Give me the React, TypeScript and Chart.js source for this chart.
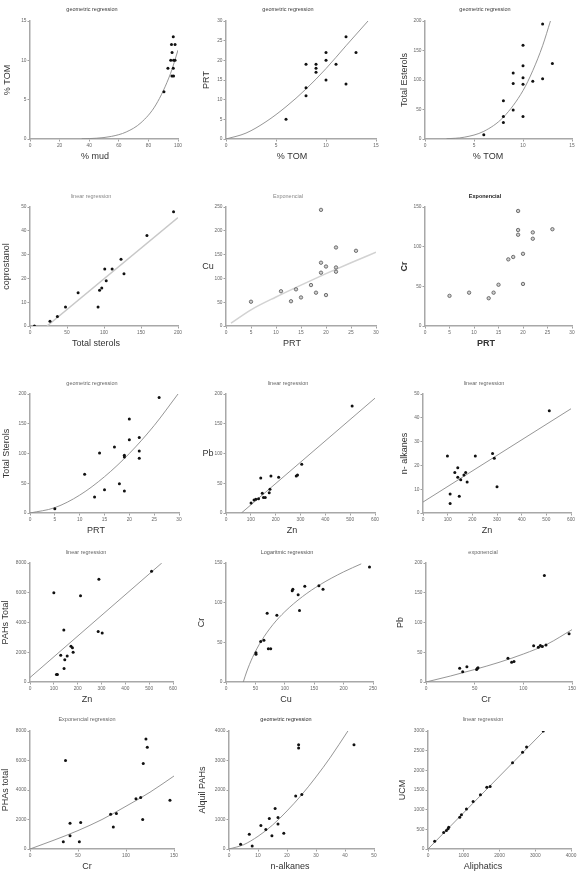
import React, { useEffect, useRef } from "react";
import { Chart, registerables } from "chart.js";

Chart.register(...registerables);

const FONT = "'Liberation Sans', Arial, Helvetica, sans-serif";

// ---------------- DATA ----------------
// Panel 1: % mud vs % TOM (geometric regression)
const p1Mud = [90.5, 93.2, 96.8, 95.6, 98, 96, 95.1, 97, 98, 96.8, 95.9, 97];
const p1Tom = [6, 9, 13, 12, 12, 11, 10, 10, 10, 9, 8, 8];
const p1FitX = [35, 45, 55, 65, 75, 85, 95, 100];
const p1FitY = [0.02, 0.1, 0.33, 0.89, 2.07, 4.33, 8.35, 11.3];

// Panel 2: % TOM vs PRT
const p2Tom = [6, 8, 8, 8, 9, 9, 9, 10, 10, 10, 11, 12, 12, 13];
const p2Prt = [5, 19, 13, 11, 19, 18, 17, 22, 20, 15, 19, 26, 14, 22];
const p2FitX = [0, 2, 4, 6, 8, 10, 12, 14.2];
const p2FitY = [0, 1.5, 4.4, 8.2, 12.7, 17.9, 23.7, 30];

// Panel 3: % TOM vs Total Esterols
const p3Tom = [6, 8, 8, 8, 9, 9, 9, 10, 10, 10, 10, 10, 11, 12, 12, 13];
const p3Est = [7, 65, 38, 28, 112, 94, 49, 159, 124, 104, 93, 38, 98, 102, 195, 128];
const p3FitX = [2.2, 4, 6, 8, 10, 11, 12, 12.8];
const p3FitY = [0.3, 3, 13, 37, 82, 116, 158, 200];

// Panel 4: Total sterols vs coprostanol
const p4Ster = [6, 27, 37, 48, 65, 92, 94, 97, 101, 103, 111, 123, 127, 158, 194];
const p4Copro = [0, 2, 4, 8, 14, 8, 15, 16, 24, 19, 24, 28, 22, 38, 48];
const p4FitX = [23, 200];
const p4FitY = [0, 45.6];

// Panel 5: PRT vs Cu
const p5Prt = [5, 11, 13, 14, 15, 17, 18, 19, 19, 19, 20, 20, 22, 22, 22, 26];
const p5Cu = [51, 73, 52, 77, 60, 86, 70, 244, 133, 112, 125, 65, 165, 123, 114, 158];
const p5FitX = [1, 5, 10, 15, 20, 25, 30];
const p5FitY = [6, 34, 61, 86, 110, 133, 155];

// Panel 6: PRT vs Cr
const p6Prt = [5, 9, 13, 14, 15, 17, 18, 19, 19, 19, 20, 20, 22, 22, 26];
const p6Cr = [38, 42, 35, 42, 52, 84, 87, 145, 121, 115, 91, 53, 118, 110, 122];

// Panel 7: PRT vs Total Sterols
const p7Prt = [5, 11, 13, 14, 15, 17, 18, 19, 19, 19, 20, 20, 22, 22, 22, 26];
const p7Ster = [7, 65, 27, 101, 39, 111, 49, 37, 97, 94, 158, 123, 127, 104, 92, 194];
const p7FitX = [0, 5, 10, 15, 20, 25, 29.8];
const p7FitY = [0, 9, 30, 61, 100, 147, 200];

// Panel 8: Zn vs Pb
const p8Zn = [101, 113, 120, 131, 140, 146, 151, 158, 174, 177, 181, 212, 283, 288, 305, 508];
const p8Pb = [17, 22, 23, 24, 59, 33, 26, 26, 34, 40, 62, 60, 62, 64, 82, 180];
const p8FitX = [62, 600];
const p8FitY = [0, 193];

// Panel 9: Zn vs n-alkanes
const p9Zn = [99, 110, 110, 129, 141, 141, 147, 153, 166, 173, 179, 212, 282, 289, 300, 512];
const p9Alk = [24, 8, 4, 17, 19, 15, 7, 14, 16, 17, 13, 24, 25, 23, 11, 43];
const p9FitX = [0, 600];
const p9FitY = [4.6, 43.8];

// Panel 10: Zn vs PAHs Total
const p10Zn = [100, 142, 212, 289, 286, 303, 510, 129, 156, 146, 172, 178, 181, 143, 111, 115];
const p10Pah = [6000, 3500, 5800, 6900, 3400, 3300, 7450, 1800, 1750, 1500, 2400, 2300, 2000, 900, 500, 500];
const p10FitX = [0, 553];
const p10FitY = [300, 8000];

// Panel 11: Cu vs Cr
const p11Cu = [51, 51, 59, 64.5, 70, 72, 76, 86.5, 112.6, 113.7, 122.7, 125, 134, 158, 165, 244];
const p11Cr = [37, 35, 51, 52.5, 86.6, 42, 42, 84, 115, 117, 110, 90, 120.6, 121.4, 116.8, 145];
const p11FitX = [29.4, 35, 45, 60, 80, 100, 130, 160, 200, 230];
const p11FitY = [0, 12.6, 30.8, 51.6, 72.5, 88.6, 107.6, 122.7, 138.8, 148.9];

// Panel 12: Cr vs Pb
const p12Cr = [34.6, 37.7, 42, 52, 52.7, 53.4, 84.2, 88, 90.4, 110.6, 115.4, 117.5, 119.5, 123.3, 147, 121.6];
const p12Pb = [23.3, 17.2, 25.5, 21, 22.7, 23.8, 39.9, 33.2, 34.3, 61, 58.2, 61.5, 59.8, 62, 81, 179];
const p12FitX = [0, 25, 50, 75, 100, 125, 150];
const p12FitY = [0, 10, 21, 33, 47, 64, 88];

// Panel 13: Cr vs PHAs total
const p13Cr = [37, 34.7, 41.7, 41.7, 51.4, 52.8, 84, 86.8, 90, 110.4, 115.3, 118, 117.4, 120.8, 122.2, 145.8];
const p13Pah = [6000, 500, 900, 1750, 500, 1800, 2350, 1500, 2400, 3400, 3500, 5800, 2000, 7450, 6900, 3300];
const p13FitX = [0, 25, 50, 75, 100, 125, 150];
const p13FitY = [0, 600, 1250, 2000, 2900, 3850, 4950];

// Panel 14: n-alkanes vs Alquil PAHs
const p14Alk = [4, 7, 8, 11, 12.7, 13.9, 14.8, 15.9, 16.9, 16.9, 18.9, 23, 24, 24, 25.1, 43.1];
const p14Alq = [160, 500, 100, 800, 660, 1030, 450, 1370, 850, 1070, 530, 1800, 3530, 3420, 1850, 3530];
const p14FitX = [0, 5, 10, 15, 20, 25, 30, 35, 41];
const p14FitY = [0, 144, 430, 810, 1290, 1831, 2443, 3113, 4000];

// Panel 15: Aliphatics vs UCM
const p15Ali = [187, 439, 514, 561, 579, 888, 935, 1075, 1262, 1467, 1645, 1738, 2364, 2645, 2757, 3224];
const p15Ucm = [194, 421, 472, 514, 556, 809, 868, 1019, 1205, 1382, 1567, 1592, 2190, 2460, 2595, 3000];
const p15FitX = [0, 3243];
const p15FitY = [0, 3000];

// ---------------- LAYOUT ----------------
type Panel = {
  title: string;
  titleColor: string;
  titleBold?: boolean;
  xLabel: string;
  yLabel: string;
  yHoriz?: boolean;
  labelBold?: boolean;
  xs: number[];
  ys: number[];
  fitX?: number[];
  fitY?: number[];
  fitColor?: string;
  fitWidth?: number;
  hollow?: boolean;
  xMax: number;
  xStep: number;
  yMax: number;
  yStep: number;
  L: number;
  R: number;
  T: number;
  B: number;
  titleX: number;
  titleY: number;
  xLabelX: number;
  xLabelY: number;
  yLabelX: number;
};

const R1 = { T: 21, B: 139, titleY: 9.5, xLabelY: 157 };
const R2 = { T: 207, B: 326, titleY: 196, xLabelY: 344 };
const R3 = { T: 394, B: 513, titleY: 383, xLabelY: 531 };
const R4 = { T: 563, B: 682, titleY: 552, xLabelY: 700 };
const R5 = { T: 731, B: 849, titleY: 719, xLabelY: 867 };

const GRAYLINE = "#8a8a8a";

const panels: Panel[] = [
  { title: "geometric regression", titleColor: "#3a3a3a", xLabel: "% mud", yLabel: "% TOM", xs: p1Mud, ys: p1Tom, fitX: p1FitX, fitY: p1FitY,
    xMax: 100, xStep: 20, yMax: 15, yStep: 5, L: 30, R: 178, ...R1, titleX: 92, xLabelX: 95, yLabelX: 8 },
  { title: "geometric regression", titleColor: "#3a3a3a", xLabel: "% TOM", yLabel: "PRT", xs: p2Tom, ys: p2Prt, fitX: p2FitX, fitY: p2FitY,
    xMax: 15, xStep: 5, yMax: 30, yStep: 5, L: 226, R: 376, ...R1, titleX: 288, xLabelX: 292, yLabelX: 207 },
  { title: "geometric regression", titleColor: "#3a3a3a", xLabel: "% TOM", yLabel: "Total Esterols", xs: p3Tom, ys: p3Est, fitX: p3FitX, fitY: p3FitY,
    xMax: 15, xStep: 5, yMax: 200, yStep: 50, L: 425, R: 572, ...R1, titleX: 485, xLabelX: 488, yLabelX: 405 },

  { title: "linear regression", titleColor: "#888", xLabel: "Total sterols", yLabel: "coprostanol", xs: p4Ster, ys: p4Copro, fitX: p4FitX, fitY: p4FitY, fitColor: "#c8c8c8", fitWidth: 1.5,
    xMax: 200, xStep: 50, yMax: 50, yStep: 10, L: 30, R: 178, ...R2, titleX: 91, xLabelX: 96, yLabelX: 7 },
  { title: "Exponencial", titleColor: "#888", xLabel: "PRT", yLabel: "Cu", yHoriz: true, xs: p5Prt, ys: p5Cu, fitX: p5FitX, fitY: p5FitY, fitColor: "#d2d2d2", fitWidth: 1.5, hollow: true,
    xMax: 30, xStep: 5, yMax: 250, yStep: 50, L: 226, R: 376, ...R2, titleX: 288, xLabelX: 292, yLabelX: 208 },
  { title: "Exponencial", titleColor: "#222", titleBold: true, labelBold: true, xLabel: "PRT", yLabel: "Cr", xs: p6Prt, ys: p6Cr, hollow: true,
    xMax: 30, xStep: 5, yMax: 150, yStep: 50, L: 425, R: 572, ...R2, titleX: 485, xLabelX: 486, yLabelX: 405 },

  { title: "geometric regression", titleColor: "#666", xLabel: "PRT", yLabel: "Total Sterols", xs: p7Prt, ys: p7Ster, fitX: p7FitX, fitY: p7FitY,
    xMax: 30, xStep: 5, yMax: 200, yStep: 50, L: 30, R: 179, ...R3, titleX: 92, xLabelX: 96, yLabelX: 7 },
  { title: "linear regression", titleColor: "#666", xLabel: "Zn", yLabel: "Pb", yHoriz: true, xs: p8Zn, ys: p8Pb, fitX: p8FitX, fitY: p8FitY,
    xMax: 600, xStep: 100, yMax: 200, yStep: 50, L: 226, R: 375, ...R3, titleX: 288, xLabelX: 292, yLabelX: 208 },
  { title: "linear regression", titleColor: "#666", xLabel: "Zn", yLabel: "n- alkanes", xs: p9Zn, ys: p9Alk, fitX: p9FitX, fitY: p9FitY,
    xMax: 600, xStep: 100, yMax: 50, yStep: 10, L: 423, R: 571, ...R3, titleX: 484, xLabelX: 487, yLabelX: 405 },

  { title: "linear regression", titleColor: "#666", xLabel: "Zn", yLabel: "PAHs Total", xs: p10Zn, ys: p10Pah, fitX: p10FitX, fitY: p10FitY,
    xMax: 600, xStep: 100, yMax: 8000, yStep: 2000, L: 30, R: 173, ...R4, titleX: 86, xLabelX: 87, yLabelX: 6 },
  { title: "Logaritmic regression", titleColor: "#555", xLabel: "Cu", yLabel: "Cr", xs: p11Cu, ys: p11Cr, fitX: p11FitX, fitY: p11FitY,
    xMax: 250, xStep: 50, yMax: 150, yStep: 50, L: 226, R: 373, ...R4, titleX: 287, xLabelX: 286, yLabelX: 202 },
  { title: "exponencial", titleColor: "#666", xLabel: "Cr", yLabel: "Pb", xs: p12Cr, ys: p12Pb, fitX: p12FitX, fitY: p12FitY,
    xMax: 150, xStep: 50, yMax: 200, yStep: 50, L: 426, R: 572, ...R4, titleX: 483, xLabelX: 486, yLabelX: 401 },

  { title: "Exponencial regression", titleColor: "#666", xLabel: "Cr", yLabel: "PHAs total", xs: p13Cr, ys: p13Pah, fitX: p13FitX, fitY: p13FitY,
    xMax: 150, xStep: 50, yMax: 8000, yStep: 2000, L: 30, R: 174, ...R5, titleX: 87, xLabelX: 87, yLabelX: 6 },
  { title: "geometric regression", titleColor: "#2a2a2a", xLabel: "n-alkanes", yLabel: "Alquil PAHs", xs: p14Alk, ys: p14Alq, fitX: p14FitX, fitY: p14FitY,
    xMax: 50, xStep: 10, yMax: 4000, yStep: 1000, L: 229, R: 374, ...R5, titleX: 286, xLabelX: 290, yLabelX: 203 },
  { title: "linear regression", titleColor: "#666", xLabel: "Aliphatics", yLabel: "UCM", xs: p15Ali, ys: p15Ucm, fitX: p15FitX, fitY: p15FitY,
    xMax: 4000, xStep: 1000, yMax: 3000, yStep: 500, L: 428, R: 571, ...R5, titleX: 483, xLabelX: 483, yLabelX: 403 },
];

const W = 581;
const H = 873;
const Y_AXIS_W = 20;
const X_AXIS_H = 12;

function PanelChart({ p }: { p: Panel }) {
  const ref = useRef<HTMLCanvasElement | null>(null);

  useEffect(() => {
    if (!ref.current) return;
    const textPlugin = {
      id: "panelText",
      afterDraw(chart: any) {
        const ctx = chart.ctx as CanvasRenderingContext2D;
        const area = chart.chartArea;
        ctx.save();
        ctx.textAlign = "center";
        ctx.textBaseline = "middle";
        ctx.fillStyle = p.titleColor;
        ctx.font = `${p.titleBold ? "bold " : ""}5.5px ${FONT}`;
        ctx.fillText(p.title, p.titleX, p.titleY);
        ctx.fillStyle = "#333";
        ctx.font = `${p.labelBold ? "bold " : ""}9px ${FONT}`;
        ctx.fillText(p.xLabel, p.xLabelX, p.xLabelY);
        const mid = (area.top + area.bottom) / 2;
        if (p.yHoriz) {
          ctx.fillText(p.yLabel, p.yLabelX, mid);
        } else {
          ctx.translate(p.yLabelX, mid);
          ctx.rotate(-Math.PI / 2);
          ctx.fillText(p.yLabel, 0, 0);
        }
        ctx.restore();
      },
    };

    const datasets: any[] = [
      {
        type: "scatter",
        data: p.xs.map((x, i) => ({ x, y: p.ys[i] })),
        pointRadius: p.hollow ? 1.7 : 1.5,
        pointBackgroundColor: p.hollow ? "#cfcfcf" : "#111",
        pointBorderColor: p.hollow ? "#555" : "#111",
        pointBorderWidth: p.hollow ? 0.8 : 0,
        order: 0,
      },
    ];
    if (p.fitX && p.fitY) {
      datasets.push({
        type: "line",
        data: p.fitX.map((x, i) => ({ x, y: p.fitY![i] })),
        borderColor: p.fitColor || GRAYLINE,
        borderWidth: p.fitWidth || 0.9,
        pointRadius: 0,
        fill: false,
        cubicInterpolationMode: "monotone",
        order: 1,
      });
    }

    const tickFont = { size: 4.8, family: FONT };
    const gridOpts = { drawOnChartArea: false, drawTicks: true, tickLength: 2.5, color: "#a0a0a0", lineWidth: 1 };
    const borderOpts = { display: true, color: "#a8a8a8", width: 1.5 };

    const chart = new Chart(ref.current, {
      type: "scatter",
      data: { datasets },
      plugins: [textPlugin],
      options: {
        responsive: false,
        animation: false,
        events: [],
        layout: {
          padding: {
            left: p.L - Y_AXIS_W,
            right: W - p.R,
            top: p.T,
            bottom: H - p.B - X_AXIS_H,
          },
        },
        plugins: {
          legend: { display: false },
          tooltip: { enabled: false },
          title: { display: false },
        },
        scales: {
          x: {
            type: "linear",
            min: 0,
            max: p.xMax,
            afterFit: (s: any) => {
              s.height = X_AXIS_H;
            },
            ticks: {
              stepSize: p.xStep,
              autoSkip: false,
              maxRotation: 0,
              padding: 1,
              font: tickFont,
              color: "#666",
              callback: (v: any) => String(v),
            },
            grid: gridOpts,
            border: borderOpts,
          },
          y: {
            type: "linear",
            min: 0,
            max: p.yMax,
            afterFit: (s: any) => {
              s.width = Y_AXIS_W;
            },
            ticks: {
              stepSize: p.yStep,
              autoSkip: false,
              padding: 1,
              font: tickFont,
              color: "#666",
              callback: (v: any) => String(v),
            },
            grid: gridOpts,
            border: borderOpts,
          },
        },
      } as any,
    });
    return () => chart.destroy();
  }, [p]);

  return (
    <canvas
      ref={ref}
      width={W}
      height={H}
      style={{ position: "absolute", left: 0, top: 0, width: W, height: H }}
    />
  );
}

export default function App() {
  return (
    <div style={{ position: "absolute", left: 0, top: 0, width: W, height: H, background: "#fff", overflow: "hidden" }}>
      {panels.map((p, i) => (
        <PanelChart key={i} p={p} />
      ))}
    </div>
  );
}
